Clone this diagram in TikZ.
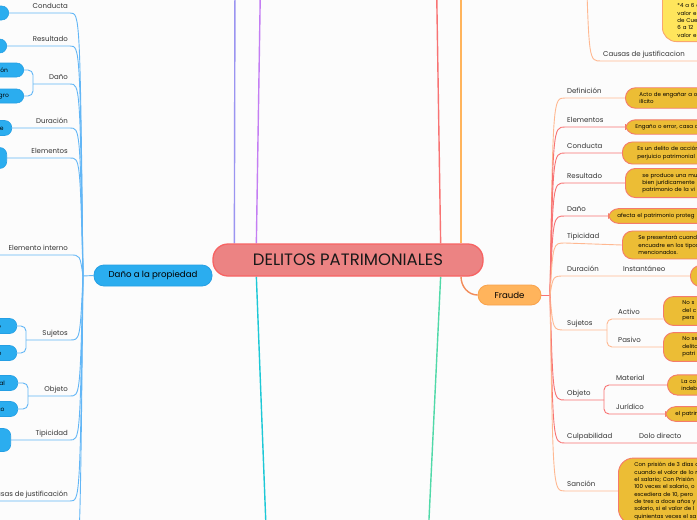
\documentclass[tikz,border=0pt]{standalone}
\usepackage{fontspec}
\setmainfont{Poppins}
\usetikzlibrary{positioning,calc,backgrounds}
\definecolor{pagebg}{HTML}{FCFCFC}
\definecolor{rootfill}{HTML}{EC8383}
\definecolor{rootdraw}{HTML}{F76363}
\definecolor{skyfill}{HTML}{2BADEF}
\definecolor{skydraw}{HTML}{259FE4}
\definecolor{skyline}{HTML}{62B6F6}
\definecolor{orangefill}{HTML}{FFB45C}
\definecolor{orangedraw}{HTML}{F9A24C}
\definecolor{goldfill}{HTML}{ECBD35}
\definecolor{golddraw}{HTML}{F47B6B}
\definecolor{lemonfill}{HTML}{FFE55C}
\definecolor{lemondraw}{HTML}{F9A66E}
\definecolor{redline}{HTML}{F87373}
\definecolor{peachline}{HTML}{FFB891}
\definecolor{fraudline}{HTML}{F28C5A}
\definecolor{violetline}{HTML}{9B94F1}
\definecolor{purpleline}{HTML}{C47EF3}
\definecolor{cyanline}{HTML}{1DC8D6}
\definecolor{greenline}{HTML}{50D9A8}
\definecolor{tagtext}{HTML}{333333}

\begin{document}
\begin{tikzpicture}[x=1pt, y=-1pt,
    rootbox/.style={draw=rootdraw, line width=1.3pt, fill=rootfill, rounded corners=15pt, minimum width=270pt, minimum height=32pt, font=\fontsize{16.5}{18}\selectfont, text=black!90},
    mainbox/.style={line width=0.8pt, rounded corners=10pt, minimum height=21pt, font=\fontsize{8.6}{10}\selectfont},
    leaf/.style={draw=skydraw, fill=skyfill, line width=0.6pt, rounded corners=7pt, anchor=east, minimum width=50pt, minimum height=14pt, inner xsep=8pt, font=\fontsize{6}{7}\selectfont},
    gold/.style={draw=golddraw, fill=goldfill, line width=0.9pt, rounded corners=10pt, anchor=west, align=left, text width=90pt, inner xsep=12pt, inner ysep=4.5pt, font=\fontsize{5.5}{7.3}\selectfont},
    branchtag/.style={text=tagtext, inner sep=2pt, text depth=2.5pt, font=\fontsize{7}{8}\selectfont},
    tagL/.style={branchtag, anchor=south east},
    tagR/.style={branchtag, anchor=south west},
    skyedge/.style={draw=skyline, line width=0.9pt},
    rededge/.style={draw=redline, line width=0.9pt},
    peachedge/.style={draw=peachline, line width=0.9pt},
    fanL/.style={to path={.. controls ($(\tikztotarget)+(10,0)$) .. (\tikztotarget)}},
    fanR/.style={to path={.. controls ($(\tikztotarget)+(-12,0)$) .. (\tikztotarget)}}]
  \useasboundingbox (0,0) rectangle (697,520);
  \clip (0,0) rectangle (697,520);

  \node[rootbox] (root) at (348,260) {DELITOS PATRIMONIALES};
  \node[mainbox, draw=skydraw, fill=skyfill, minimum width=118pt] (dano) at (153,275.5) {Daño a la propiedad};
  \node[mainbox, draw=orangedraw, fill=orangefill, minimum width=63pt, minimum height=20pt] (fraude) at (509.5,295) {Fraude};

  \coordinate (hubL) at (83,276);
  \coordinate (hubR) at (550,295);
  \coordinate (topViolet) at (235,-20);
  \coordinate (topPurple) at (260.5,-20);
  \coordinate (topRed) at (436.5,-20);
  \coordinate (topOrange) at (461,-20);
  \coordinate (botCyan) at (266.5,540);
  \coordinate (botGreen) at (428,540);
  \coordinate (topCausa) at (586,-40);

  \node[tagL] (lCond) at (70,13) {Conducta};
  \node[tagL] (lRes) at (70,46) {Resultado};
  \node[tagL] (lDano) at (70,84) {Daño};
  \node[tagL] (lDur) at (70,128) {Duración};
  \node[tagL] (lElem) at (70,158) {Elementos};
  \node[tagL] (lInt) at (70,255) {Elemento interno};
  \node[tagL] (lSuj) at (70,340) {Sujetos};
  \node[tagL] (lObj) at (70,396) {Objeto};
  \node[tagL] (lTip) at (70,440) {Tipicidad};
  \node[tagL] (lCaus) at (70,501) {Causas de justificación};

  \node[leaf] (cCond) at (9,13) {};
  \node[leaf] (cRes) at (7,46) {};
  \node[leaf] (cLes) at (24,70) {Lesión};
  \node[leaf] (cPel) at (24,96) {Peligro};
  \node[leaf, minimum height=15pt] (cDur) at (12,128) {Permanente};
  \node[leaf, minimum height=21pt] (cElem) at (7,158) {};
  \node[leaf, inner xsep=3pt, minimum height=15pt] (cAct) at (17,326) {Activo};
  \node[leaf, inner xsep=3pt, minimum height=15pt] (cPas) at (17,353) {Pasivo};
  \node[leaf, inner xsep=10pt, minimum height=15pt] (cMat) at (18,383) {Material};
  \node[leaf, inner xsep=10pt, minimum height=15pt] (cJur) at (18,409) {Jurídico};
  \node[leaf, minimum height=23pt] (cTip) at (11,440) {};

  \coordinate (bDano) at (33,84);
  \coordinate (bSuj) at (26,340);
  \coordinate (bObj) at (28,396);
  \coordinate (offInt) at (-10,255);
  \coordinate (offCaus) at (-10,501);
  \coordinate (offL) at (70,570);

  \node[tagR] (rDef) at (565,98) {Definición};
  \node[tagR] (rElem) at (565,127) {Elementos};
  \node[tagR] (rCond) at (565,153) {Conducta};
  \node[tagR] (rRes) at (565,183) {Resultado};
  \node[tagR] (rDano) at (565,216) {Daño};
  \node[tagR] (rTip) at (565,243) {Tipicidad};
  \node[tagR] (rDur) at (565,276) {Duración};
  \node[tagR] (rInst) at (621,276) {Instantáneo};
  \node[tagR] (rSuj) at (565,330) {Sujetos};
  \node[tagR] (rAct) at (616,319) {Activo};
  \node[tagR] (rPas) at (616,347) {Pasivo};
  \node[tagR] (rObj) at (565,400) {Objeto};
  \node[tagR] (rMat) at (614,385) {Material};
  \node[tagR] (rJur) at (614,414) {Jurídico};
  \node[tagR] (rCul) at (565,443) {Culpabilidad};
  \node[tagR] (rDolo) at (637,443) {Dolo directo};
  \node[tagR] (rSanc) at (565,491) {Sanción};
  \node[tagR] (rCausa) at (601,61) {Causas de justificacion};

  \node[gold, inner xsep=14pt] (gDef) at (625,98) {Acto de engañar a o\\ilícito};
  \node[gold, inner xsep=10pt] (gElem) at (625,127) {Engaño o error, casa c};
  \node[gold, inner xsep=15pt] (gCond) at (622,153) {Es un delito de acción\\perjuicio patrimonial};
  \node[gold, inner xsep=17pt] (gRes) at (625,183) {se produce una mu\\bien jurídicamente\\patrimonio de la vi};
  \node[gold, inner xsep=9pt] (gDano) at (608,216) {afecta el patrimonio proteg};
  \node[gold, inner xsep=16pt] (gTip) at (622,245) {Se presentará cuando\\encuadre en los tipos\\mencionados.};
  \node[gold, minimum height=21pt] (gDur) at (690,276) {};
  \node[gold, inner xsep=19pt] (gAct) at (663,311) {No s\\del c\\pers};
  \node[gold, inner xsep=19pt] (gPas) at (663,347) {No se\\delito\\patri};
  \node[gold, inner xsep=14pt] (gMat) at (667,385) {La co\\indebi};
  \node[gold, inner xsep=10pt] (gJur) at (665,414) {el patrim};
  \node[gold, inner xsep=16pt, rounded corners=15pt] (gSanc) at (618,491) {Con prisión de 3 días a\\cuando el valor de lo r\\el salario; Con Prisión\\100 veces el salario, o\\excediera de 10, pero\\de tres a doce años y\\salario, si el valor de l\\quinientas veces el sa};
  \node[gold, draw=lemondraw, fill=lemonfill, inner xsep=15pt, rounded corners=14pt, anchor=south west] (gPena) at (662,42) {\mbox{}\\[14pt]*4 a 6 a\\valor e\\de Cue\\*6 a 12\\valor e};

  \coordinate (bSujR) at (607,330);
  \coordinate (bObjR) at (604,400);
  \coordinate (offCul) at (705,443);
  \coordinate (offCausa) at (705,61);

  \begin{scope}[on background layer]
    \clip (0,0) rectangle (697,520);
    \fill[pagebg] (0,0) rectangle (697,520);

    \draw[violetline, line width=1.4pt] ($(root.north west)+(22,0)$) -- (topViolet);
    \draw[purpleline, line width=1.4pt] ($(root.north west)+(44,0)$) -- (topPurple);
    \draw[redline, line width=1.4pt] ($(root.north east)+(-43,0)$) -- (topRed);
    \draw[orangefill, line width=1.4pt] (root.north -| topOrange) -- (topOrange);
    \draw[cyanline, line width=1.4pt] ($(root.south west)+(44,0)$) -- (botCyan);
    \draw[greenline, line width=1.4pt] ($(root.south east)+(-43,0)$) -- (botGreen);
    \draw[skyedge, line width=1.4pt] (dano.east) -- (root);
    \draw[fraudline, line width=1.4pt] (root.south -| topOrange) to[out=-90, in=180] (fraude.west);

    \draw[skyedge] (dano.west) -- (hubL);
    \draw[skyedge] (hubL) to[fanL] (lCond.south east) -- (cCond.east);
    \draw[skyedge] (hubL) to[fanL] (lRes.south east) -- (cRes.east);
    \draw[skyedge] (hubL) to[fanL] (lDano.south east) -- (bDano);
    \draw[skyedge, rounded corners=5pt] (cLes.east) -| (bDano) |- (cPel.east);
    \draw[skyedge] (hubL) to[fanL] (lDur.south east) -- (cDur.east);
    \draw[skyedge] (hubL) to[fanL] (lElem.south east) -- (cElem.east);
    \draw[skyedge] (hubL) to[fanL] (lInt.south east) -- (offInt);
    \draw[skyedge] (hubL) to[fanL] (lSuj.south east) -- (bSuj);
    \draw[skyedge, rounded corners=5pt] (cAct.east) -| (bSuj) |- (cPas.east);
    \draw[skyedge] (hubL) to[fanL] (lObj.south east) -- (bObj);
    \draw[skyedge, rounded corners=5pt] (cMat.east) -| (bObj) |- (cJur.east);
    \draw[skyedge] (hubL) to[fanL] (lTip.south east) -- (cTip.east);
    \draw[skyedge] (hubL) to[fanL] (lCaus.south east) -- (offCaus);
    \draw[skyedge] (hubL) to[fanL] (offL);

    \draw[rededge] (fraude.east) -- (hubR);
    \draw[peachedge] (hubR) to[fanR] (rDef.south west) -- (gDef.west);
    \draw[rededge] (hubR) to[fanR] (rElem.south west) -- (gElem.west);
    \draw[rededge] (hubR) to[fanR] (rCond.south west) -- (gCond.west);
    \draw[rededge] (hubR) to[fanR] (rRes.south west) -- (gRes.west);
    \draw[rededge] (hubR) to[fanR] (rDano.south west) -- (gDano.west);
    \draw[peachedge] (hubR) to[fanR] (rTip.south west) -- (gTip.west);
    \draw[peachedge] (hubR) to[fanR] (rDur.south west) -- (gDur.west);
    \draw[peachedge] (hubR) to[fanR] (rSuj.south west) -- (bSujR);
    \draw[peachedge, rounded corners=5pt] (gAct.west |- rAct.south west) -| (bSujR) |- (gPas.west);
    \draw[rededge] (hubR) to[fanR] (rObj.south west) -- (bObjR);
    \draw[rededge, rounded corners=5pt] (gMat.west) -| (bObjR) |- (gJur.west);
    \draw[rededge] (hubR) to[fanR] (rCul.south west) -- (offCul);
    \draw[peachedge] (hubR) to[fanR] (rSanc.south west) -- (gSanc.west);
    \draw[peachedge] (topCausa) to[fanR] (rCausa.south west) -- (offCausa);
  \end{scope}
\end{tikzpicture}
\end{document}
